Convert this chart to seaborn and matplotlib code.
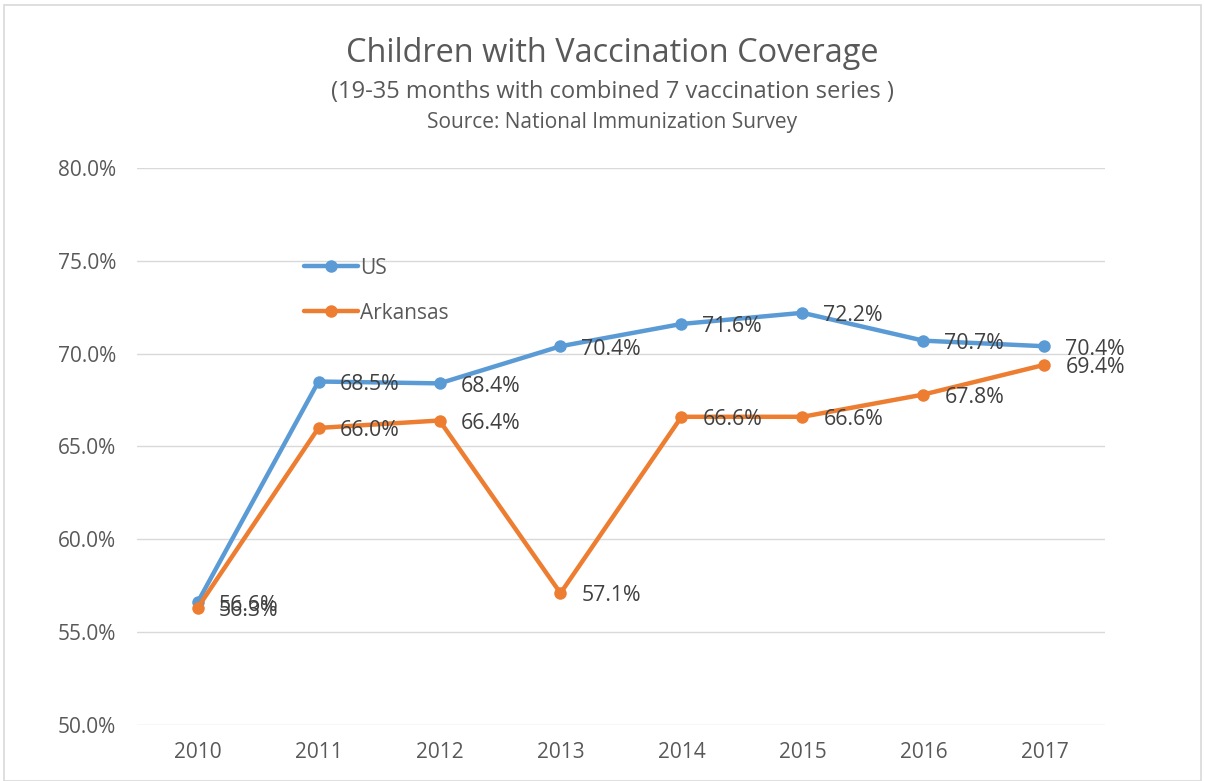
import pandas as pd
import numpy as np
import matplotlib.pyplot as plt
import matplotlib.ticker as mticker
from matplotlib.patches import Rectangle
import seaborn as sns

years = ['2010', '2011', '2012', '2013', '2014', '2015', '2016', '2017']
us = [56.6, 68.5, 68.4, 70.4, 71.6, 72.2, 70.7, 70.4]
arkansas = [56.3, 66.0, 66.4, 57.1, 66.6, 66.6, 67.8, 69.4]
series_names = ['US', 'Arkansas']
yticks = [50, 55, 60, 65, 70, 75, 80]

df = pd.DataFrame({
    'year': years * 2,
    'value': us + arkansas,
    'series': ['US'] * len(years) + ['Arkansas'] * len(years),
})

sns.set_style('white')
plt.rcParams['font.family'] = ['Open Sans', 'DejaVu Sans']

fig = plt.figure(figsize=(12.05, 7.81), dpi=100)
ax = fig.add_axes([0.1137, 0.0717, 0.8033, 0.7132])

colors = {'US': '#5B9BD5', 'Arkansas': '#ED7D31'}
sns.lineplot(data=df, x='year', y='value', hue='series', hue_order=series_names,
             palette=colors, marker='o', markersize=9, markeredgewidth=0,
             linewidth=3.2, ax=ax, sort=False)

# data labels to the right of each point
for name, vals in [('US', us), ('Arkansas', arkansas)]:
    for i, v in enumerate(vals):
        ax.annotate(f'{v:.1f}%', (i, v), xytext=(15, -2), textcoords='offset points',
                    ha='left', va='center', fontsize=15.3, color='#404040')

ax.set_xlim(-0.5, len(years) - 0.5)
ax.set_ylim(50, 80)
ax.set_yticks(yticks)
ax.yaxis.set_major_formatter(mticker.PercentFormatter(decimals=1))
ax.grid(axis='y', color='#D9D9D9', linewidth=1)
ax.grid(axis='x', visible=False)
for s in ax.spines.values():
    s.set_visible(False)
ax.tick_params(axis='both', length=0, labelsize=15, labelcolor='#595959')
ax.tick_params(axis='x', pad=12)
ax.tick_params(axis='y', pad=15)
ax.set_xlabel('')
ax.set_ylabel('')

sns.move_legend(ax, loc='center left', bbox_to_anchor=(0.153, 0.78), frameon=False,
                title=None, fontsize=15, labelspacing=1.15, handlelength=2.6,
                handletextpad=0.1, labelcolor='#595959')

fig.text(0.508, 0.931, 'Children with Vaccination Coverage', ha='center', va='center',
         fontsize=23.4, color='#595959')
fig.text(0.508, 0.882, '(19-35 months with combined 7 vaccination series )', ha='center',
         va='center', fontsize=17, color='#595959')
fig.text(0.508, 0.843, 'Source: National Immunization Survey', ha='center', va='center',
         fontsize=15, color='#595959')

fig.patches.append(Rectangle((0.003, 0.0), 0.994, 0.993, transform=fig.transFigure,
                             fill=False, edgecolor='#D9D9D9', linewidth=1.2))

fig.savefig('out.png', dpi=100)
